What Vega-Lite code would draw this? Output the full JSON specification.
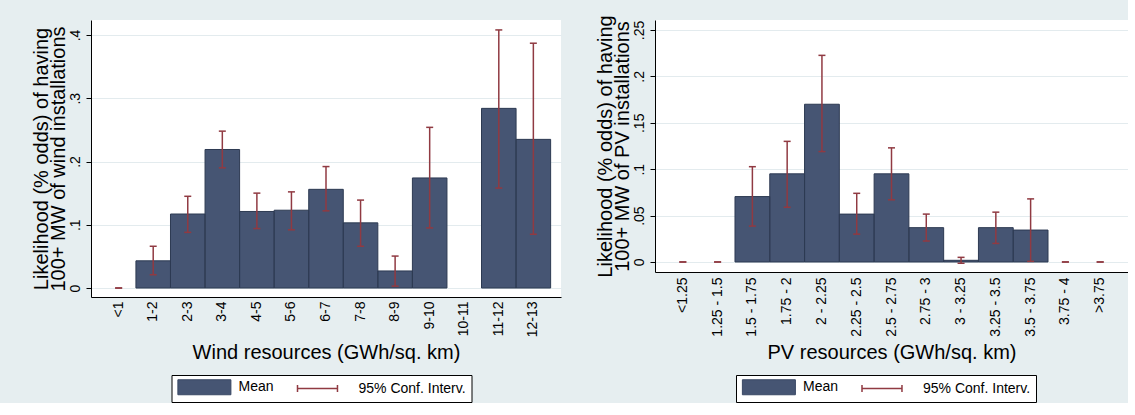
{
  "$schema": "https://vega.github.io/schema/vega-lite/v6.json",
  "background": "#E6EEF0",
  "padding": {"left": 30, "top": 14, "right": 0, "bottom": 0},
  "bounds": "flush",
  "spacing": 94,
  "config": {
    "font": "Liberation Sans",
    "view": {"stroke": null, "fill": "white"},
    "axis": {
      "labelFont": "Liberation Sans", "titleFont": "Liberation Sans",
      "labelColor": "black", "titleColor": "black",
      "titleFontWeight": "normal", "labelFontSize": 14, "titleFontSize": 20,
      "domainColor": "black", "domainWidth": 1, "tickColor": "black", "tickWidth": 1
    },
    "legend": {
      "orient": "none", "direction": "horizontal", "title": null,
      "fillColor": "white", "strokeColor": "black", "padding": 5, "symbolSize": 225, "labelOffset": 48, "columnPadding": 20,
      "labelFontSize": 14, "labelFont": "Liberation Sans", "labelColor": "black",
      "symbolType": {"expr": "datum.value === 'Mean' ? 'M-0.75,-1H6.32V1H-0.75Z' : 'M-0.8,0H4.53M-0.8,-0.47V0.47M4.53,-0.47V0.47'"},
      "symbolStrokeColor": {"expr": "datum.value === 'Mean' ? '#3a4865' : '#903a42'"},
      "symbolStrokeWidth": {"expr": "datum.value === 'Mean' ? 1 : 1.5"},
      "symbolOpacity": 1
    }
  },
  "datasets": {
    "wind": [
      {"cat": "<1", "mean": 0, "lo": 0, "hi": 0},
      {"cat": "1-2", "mean": 0.043, "lo": 0.021, "hi": 0.066},
      {"cat": "2-3", "mean": 0.117, "lo": 0.088, "hi": 0.145},
      {"cat": "3-4", "mean": 0.219, "lo": 0.19, "hi": 0.248},
      {"cat": "4-5", "mean": 0.121, "lo": 0.094, "hi": 0.15},
      {"cat": "5-6", "mean": 0.123, "lo": 0.092, "hi": 0.152},
      {"cat": "6-7", "mean": 0.156, "lo": 0.122, "hi": 0.192},
      {"cat": "7-8", "mean": 0.103, "lo": 0.066, "hi": 0.139},
      {"cat": "8-9", "mean": 0.027, "lo": 0.003, "hi": 0.0505},
      {"cat": "9-10", "mean": 0.174, "lo": 0.095, "hi": 0.254},
      {"cat": "10-11", "mean": null, "lo": null, "hi": null},
      {"cat": "11-12", "mean": 0.284, "lo": 0.158, "hi": 0.408},
      {"cat": "12-13", "mean": 0.235, "lo": 0.085, "hi": 0.387}
    ],
    "pv": [
      {"cat": "<1.25", "mean": 0, "lo": 0, "hi": 0},
      {"cat": "1.25 - 1.5", "mean": 0, "lo": 0, "hi": 0},
      {"cat": "1.5 - 1.75", "mean": 0.0705, "lo": 0.0387, "hi": 0.1027},
      {"cat": "1.75 - 2", "mean": 0.095, "lo": 0.059, "hi": 0.13},
      {"cat": "2 - 2.25", "mean": 0.17, "lo": 0.119, "hi": 0.2227},
      {"cat": "2.25 - 2.5", "mean": 0.0516, "lo": 0.03, "hi": 0.074},
      {"cat": "2.5 - 2.75", "mean": 0.095, "lo": 0.067, "hi": 0.123},
      {"cat": "2.75 - 3", "mean": 0.037, "lo": 0.0226, "hi": 0.0516},
      {"cat": "3 - 3.25", "mean": 0.0018, "lo": -0.0014, "hi": 0.005},
      {"cat": "3.25 - 3.5", "mean": 0.037, "lo": 0.02, "hi": 0.0537},
      {"cat": "3.5 - 3.75", "mean": 0.0344, "lo": 0.0007, "hi": 0.068},
      {"cat": "3.75 - 4", "mean": 0, "lo": 0, "hi": 0},
      {"cat": ">3.75", "mean": 0, "lo": 0, "hi": 0}
    ]
  },
  "resolve": {"scale": {"color": "independent", "x": "independent", "y": "independent"}},
  "hconcat": [
    {
      "width": 470, "height": 277,
      "data": {"name": "wind"},
      "encoding": {
        "x": {"field": "cat", "type": "nominal", "sort": null,
          "scale": {"domain": ["<1", "1-2", "2-3", "3-4", "4-5", "5-6", "6-7", "7-8", "8-9", "9-10", "10-11", "11-12", "12-13"], "paddingInner": 0, "paddingOuter": 0.3},
          "axis": {"title": "Wind resources (GWh/sq. km)", "labelAngle": -90, "labelAlign": "right", "labelBaseline": "middle", "labelPadding": 4, "ticks": false, "grid": false, "titlePadding": 6}}
      },
      "layer": [
        {
          "transform": [{"filter": "datum.mean > 0"}],
          "mark": {"type": "bar"},
          "encoding": {
            "y": {"field": "mean", "type": "quantitative",
              "scale": {"domain": [-0.0142, 0.4237], "nice": false, "zero": false},
              "axis": {"title": ["Likelihood (% odds) of having", "100+ MW of wind installations"], "values": [0, 0.1, 0.2, 0.3, 0.4],
                "labelExpr": "datum.value == 0 ? '0' : replace(format(datum.value, '.2~f'), '0.', '.')",
                "labelAngle": -90, "labelAlign": "center", "labelBaseline": "alphabetic", "labelPadding": 7, "tickSize": 5,
                "grid": true, "gridColor": "#E3EBEE", "titleLineHeight": 17, "titlePadding": 0}},
            "y2": {"datum": 0},
            "color": {"datum": "Mean", "type": "nominal",
              "scale": {"domain": ["Mean", "95% Conf. Interv."], "range": ["#465573", "#903a42"]},
              "legend": {"legendX": 80.5, "legendY": 355}}
          }
        },
        {
          "transform": [{"filter": "datum.mean > 0"}],
          "mark": {"type": "bar", "fill": "transparent", "stroke": "#2d3a52", "strokeWidth": 1},
          "encoding": {
            "y": {"field": "mean", "type": "quantitative", "scale": {"domain": [-0.0142, 0.4237], "nice": false, "zero": false}},
            "y2": {"datum": 0}
          }
        },
        {
          "transform": [{"filter": "datum.lo != null"}],
          "mark": {"type": "rule", "strokeWidth": 1.5, "color": "#903a42"},
          "encoding": {
            "y": {"field": "lo", "type": "quantitative", "scale": {"domain": [-0.0142, 0.4237], "nice": false, "zero": false}},
            "y2": {"field": "hi"}
          }
        },
        {
          "transform": [{"filter": "datum.lo != null"}],
          "mark": {"type": "tick", "size": 7, "thickness": 1.5, "opacity": 1, "color": "#903a42"},
          "encoding": {
            "y": {"field": "lo", "type": "quantitative", "scale": {"domain": [-0.0142, 0.4237], "nice": false, "zero": false}}
          }
        },
        {
          "transform": [{"filter": "datum.hi != null"}],
          "mark": {"type": "tick", "size": 7, "thickness": 1.5, "opacity": 1, "color": "#903a42"},
          "encoding": {
            "y": {"field": "hi", "type": "quantitative", "scale": {"domain": [-0.0142, 0.4237], "nice": false, "zero": false}}
          }
        }
      ]
    },
    {
      "width": 473, "height": 252,
      "data": {"name": "pv"},
      "encoding": {
        "x": {"field": "cat", "type": "nominal", "sort": null,
          "scale": {"domain": ["<1.25", "1.25 - 1.5", "1.5 - 1.75", "1.75 - 2", "2 - 2.25", "2.25 - 2.5", "2.5 - 2.75", "2.75 - 3", "3 - 3.25", "3.25 - 3.5", "3.5 - 3.75", "3.75 - 4", ">3.75"], "paddingInner": 0, "paddingOuter": 0.3},
          "axis": {"title": "PV resources (GWh/sq. km)", "labelAngle": -90, "labelAlign": "right", "labelBaseline": "middle", "labelPadding": 5, "ticks": false, "grid": false, "titlePadding": 6}}
      },
      "layer": [
        {
          "transform": [{"filter": "datum.mean > 0"}],
          "mark": {"type": "bar"},
          "encoding": {
            "y": {"field": "mean", "type": "quantitative",
              "scale": {"domain": [-0.0108, 0.2608], "nice": false, "zero": false},
              "axis": {"title": ["Likelihood (% odds) of having", "100+ MW of PV installations"], "values": [0, 0.05, 0.1, 0.15, 0.2, 0.25],
                "labelExpr": "datum.value == 0 ? '0' : replace(format(datum.value, '.2~f'), '0.', '.')",
                "labelAngle": -90, "labelAlign": "center", "labelBaseline": "alphabetic", "labelPadding": 7, "tickSize": 5,
                "grid": true, "gridColor": "#E3EBEE", "titleLineHeight": 17, "titlePadding": 0}},
            "y2": {"datum": 0},
            "color": {"datum": "Mean", "type": "nominal",
              "scale": {"domain": ["Mean", "95% Conf. Interv."], "range": ["#465573", "#903a42"]},
              "legend": {"legendX": 81, "legendY": 355}}
          }
        },
        {
          "transform": [{"filter": "datum.mean > 0"}],
          "mark": {"type": "bar", "fill": "transparent", "stroke": "#2d3a52", "strokeWidth": 1},
          "encoding": {
            "y": {"field": "mean", "type": "quantitative", "scale": {"domain": [-0.0108, 0.2608], "nice": false, "zero": false}},
            "y2": {"datum": 0}
          }
        },
        {
          "transform": [{"filter": "datum.lo != null"}],
          "mark": {"type": "rule", "strokeWidth": 1.5, "color": "#903a42"},
          "encoding": {
            "y": {"field": "lo", "type": "quantitative", "scale": {"domain": [-0.0108, 0.2608], "nice": false, "zero": false}},
            "y2": {"field": "hi"}
          }
        },
        {
          "transform": [{"filter": "datum.lo != null"}],
          "mark": {"type": "tick", "size": 7, "thickness": 1.5, "opacity": 1, "color": "#903a42"},
          "encoding": {
            "y": {"field": "lo", "type": "quantitative", "scale": {"domain": [-0.0108, 0.2608], "nice": false, "zero": false}}
          }
        },
        {
          "transform": [{"filter": "datum.hi != null"}],
          "mark": {"type": "tick", "size": 7, "thickness": 1.5, "opacity": 1, "color": "#903a42"},
          "encoding": {
            "y": {"field": "hi", "type": "quantitative", "scale": {"domain": [-0.0108, 0.2608], "nice": false, "zero": false}}
          }
        }
      ]
    }
  ]
}
